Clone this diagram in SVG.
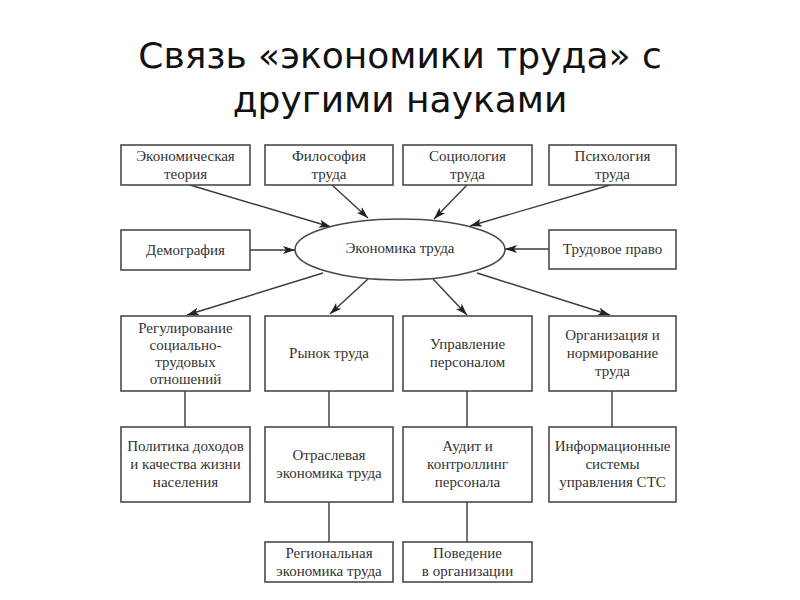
<svg xmlns="http://www.w3.org/2000/svg" width="800" height="600" viewBox="0 0 800 600">
<style>
.title{font-family:"DejaVu Sans","Noto Sans",sans-serif;font-size:36px;fill:#111;text-anchor:middle}
.box{fill:#fff;stroke:#4a4a4a;stroke-width:1.6}
.t{font-family:"Liberation Serif","Times New Roman",serif;font-size:15px;fill:#333;text-anchor:middle}
.c{stroke:#3a3a3a;stroke-width:1.4;fill:none}
.a{marker-end:url(#ah)}
</style>
<defs>
<marker id="ah" markerUnits="userSpaceOnUse" markerWidth="12" markerHeight="8" refX="12" refY="4" orient="auto">
<path d="M0,0 L12,4 L0,8 L3,4 z" fill="#222"/>
</marker>
</defs>
<rect width="800" height="600" fill="#fff"/>
<text class="title" x="400" y="68">Связь «экономики труда» с</text>
<text class="title" x="400" y="112">другими науками</text>

<g id="connectors">
<line class="c a" x1="190" y1="185" x2="331" y2="227"/>
<line class="c a" x1="332" y1="185" x2="368" y2="218"/>
<line class="c a" x1="467" y1="185" x2="434" y2="219"/>
<line class="c a" x1="610" y1="185" x2="470" y2="226"/>
<line class="c a" x1="250" y1="250" x2="295" y2="250"/>
<line class="c a" x1="549" y1="249" x2="505" y2="249"/>
<line class="c a" x1="323" y1="273" x2="187" y2="315"/>
<line class="c a" x1="368" y1="279" x2="330" y2="314"/>
<line class="c a" x1="433" y1="279" x2="467" y2="315"/>
<line class="c a" x1="477" y1="273" x2="610" y2="315"/>
<line class="c" x1="185" y1="391" x2="185" y2="427"/>
<line class="c" x1="329" y1="391" x2="329" y2="427"/>
<line class="c" x1="467" y1="391" x2="467" y2="427"/>
<line class="c" x1="612" y1="391" x2="612" y2="427"/>
<line class="c" x1="329" y1="502" x2="329" y2="542"/>
<line class="c" x1="467" y1="502" x2="467" y2="542"/>
</g>

<g id="center">
<ellipse class="box" cx="400" cy="249.5" rx="105" ry="30.5"/>
<text class="t" x="400" y="253">Экономика труда</text>
</g>

<g id="econ-theory">
<rect class="box" x="121" y="145" width="129" height="40"/>
<text class="t" x="185.5" y="161">Экономическая</text>
<text class="t" x="185.5" y="179">теория</text>
</g>
<g id="philosophy">
<rect class="box" x="265" y="145" width="128" height="40"/>
<text class="t" x="329" y="161">Философия</text>
<text class="t" x="329" y="179">труда</text>
</g>
<g id="sociology">
<rect class="box" x="403" y="145" width="129" height="40"/>
<text class="t" x="467.5" y="161">Социология</text>
<text class="t" x="467.5" y="179">труда</text>
</g>
<g id="psychology">
<rect class="box" x="549" y="145" width="127" height="40"/>
<text class="t" x="612.5" y="161">Психология</text>
<text class="t" x="612.5" y="179">труда</text>
</g>
<g id="demography">
<rect class="box" x="121" y="230" width="129" height="40"/>
<text class="t" x="185.5" y="255">Демография</text>
</g>
<g id="labor-law">
<rect class="box" x="549" y="230" width="127" height="39"/>
<text class="t" x="612.5" y="254">Трудовое право</text>
</g>

<g id="regulation">
<rect class="box" x="121" y="316" width="129" height="75"/>
<text class="t" x="185.5" y="333">Регулирование</text>
<text class="t" x="185.5" y="350">социально-</text>
<text class="t" x="185.5" y="367">трудовых</text>
<text class="t" x="185.5" y="384">отношений</text>
</g>
<g id="labor-market">
<rect class="box" x="265" y="316" width="128" height="75"/>
<text class="t" x="329" y="358">Рынок труда</text>
</g>
<g id="hr-management">
<rect class="box" x="403" y="316" width="129" height="75"/>
<text class="t" x="467.5" y="349">Управление</text>
<text class="t" x="467.5" y="367">персоналом</text>
</g>
<g id="organization">
<rect class="box" x="549" y="316" width="127" height="75"/>
<text class="t" x="612.5" y="340">Организация и</text>
<text class="t" x="612.5" y="358">нормирование</text>
<text class="t" x="612.5" y="376">труда</text>
</g>

<g id="income-policy">
<rect class="box" x="121" y="427" width="129" height="75"/>
<text class="t" x="185.5" y="451">Политика доходов</text>
<text class="t" x="185.5" y="469">и качества жизни</text>
<text class="t" x="185.5" y="487">населения</text>
</g>
<g id="sector-economics">
<rect class="box" x="265" y="427" width="128" height="75"/>
<text class="t" x="329" y="460">Отраслевая</text>
<text class="t" x="329" y="478">экономика труда</text>
</g>
<g id="audit">
<rect class="box" x="403" y="427" width="129" height="75"/>
<text class="t" x="467.5" y="451">Аудит и</text>
<text class="t" x="467.5" y="469">контроллинг</text>
<text class="t" x="467.5" y="487">персонала</text>
</g>
<g id="info-systems">
<rect class="box" x="549" y="427" width="127" height="75"/>
<text class="t" x="612.5" y="451">Информационные</text>
<text class="t" x="612.5" y="469">системы</text>
<text class="t" x="612.5" y="487">управления СТС</text>
</g>

<g id="regional-economics">
<rect class="box" x="265" y="542" width="128" height="40"/>
<text class="t" x="329" y="558">Региональная</text>
<text class="t" x="329" y="576">экономика труда</text>
</g>
<g id="org-behavior">
<rect class="box" x="403" y="542" width="129" height="40"/>
<text class="t" x="467.5" y="558">Поведение</text>
<text class="t" x="467.5" y="576">в организации</text>
</g>
</svg>
